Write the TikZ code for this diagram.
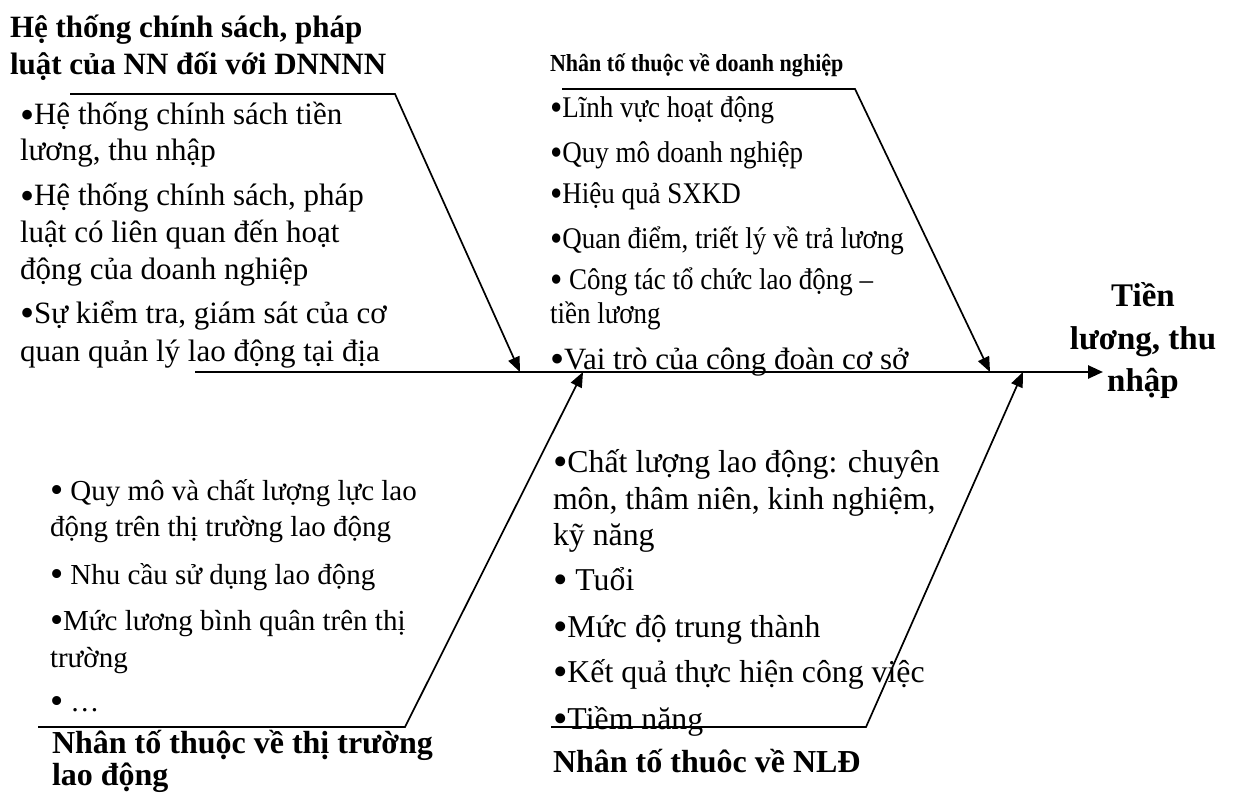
\documentclass[tikz,border=0pt]{standalone}
\usepackage{graphicx}
\usepackage{fontspec}
\setmainfont{Liberation Serif}
\newfontfamily\narrowserif[FakeStretch=0.9]{Liberation Serif}
\usetikzlibrary{arrows.meta}
\newcommand\tline[5]{\node[#1] (#2) at (#3,#4) {#5};}
\newcommand\bul{\raisebox{-0.1em}{\scalebox{1.3}{•}}}
\tikzset{
  txt/.style={anchor=base west, inner sep=0pt, outer sep=0pt},
  tlbody/.style={txt, font=\fontsize{31}{36}\selectfont},
  tlhead/.style={txt, font=\bfseries\fontsize{31}{36}\selectfont},
  trhead/.style={txt, font=\narrowserif\bfseries\fontsize{24.5}{28}\selectfont},
  trbody/.style={txt, font=\narrowserif\fontsize{30}{34}\selectfont},
  trbig/.style={txt, font=\fontsize{31}{36}\selectfont},
  blbody/.style={txt, font=\fontsize{29}{34}\selectfont},
  brbody/.style={txt, font=\fontsize{31.8}{36}\selectfont},
  bhead/.style={txt, font=\bfseries\fontsize{32}{38}\selectfont},
  effect/.style={anchor=base, inner sep=0pt, font=\bfseries\fontsize{33}{38}\selectfont},
  branch/.style={line width=1.7pt, line join=miter, -{Triangle[length=15pt,width=12pt]}},
  spine/.style={line width=2.6pt, -{Triangle[length=15pt,width=13pt]}}
}
\begin{document}
\begin{tikzpicture}[x=1pt,y=-1pt]
\useasboundingbox (0,0) rectangle (1238,794);
% ---------- coordinates ----------
\coordinate (spineS) at (195,372);
\coordinate (spineE) at (1103,372);
\coordinate (a1s) at (70,94);   \coordinate (a1c) at (395,94);   \coordinate (a1t) at (520,372);
\coordinate (a2s) at (562,89);  \coordinate (a2c) at (855,89);   \coordinate (a2t) at (990,372);
\coordinate (a3s) at (38,727);  \coordinate (a3c) at (405,727);  \coordinate (a3t) at (583,372);
\coordinate (a4s) at (551,727); \coordinate (a4c) at (866,727);  \coordinate (a4t) at (1023,372);
% ---------- top left ----------
\tline{tlhead}{h1a}{10}{38}{Hệ thống chính sách, pháp}
\tline{tlhead}{h1b}{10}{75}{luật của NN đối với DNNNN}
\tline{tlbody}{p1a}{20}{125}{\bul Hệ thống chính sách tiền}
\tline{tlbody}{p1b}{20}{161}{lương, thu nhập}
\tline{tlbody}{p1c}{20}{206}{\bul Hệ thống chính sách, pháp}
\tline{tlbody}{p1d}{20}{243}{luật có liên quan đến hoạt}
\tline{tlbody}{p1e}{20}{279}{động của doanh nghiệp}
\tline{tlbody}{p1f}{20}{323}{\bul Sự kiểm tra, giám sát của cơ}
\tline{tlbody}{p1g}{20}{361}{quan quản lý lao động tại địa}
% ---------- top right ----------
\tline{trhead}{h2}{550}{72}{Nhân tố thuộc về doanh nghiệp}
\tline{trbody}{p2a}{550}{118}{\bul Lĩnh vực hoạt động}
\tline{trbody}{p2b}{550}{163}{\bul Quy mô doanh nghiệp}
\tline{trbody}{p2c}{550}{204}{\bul Hiệu quả SXKD}
\tline{trbody}{p2d}{550}{248}{\bul Quan điểm, triết lý về trả lương}
\tline{trbody}{p2e}{550}{289}{\bul{} Công tác tổ chức lao động –}
\tline{trbody}{p2f}{550}{323}{tiền lương}
\tline{trbig}{p2g}{550}{369}{\bul Vai trò của công đoàn cơ sở}
% ---------- bottom left ----------
\tline{blbody}{p3a}{50}{500}{\bul{} Quy mô và chất lượng lực lao}
\tline{blbody}{p3b}{50}{536}{động trên thị trường lao động}
\tline{blbody}{p3c}{50}{584}{\bul{} Nhu cầu sử dụng lao động}
\tline{blbody}{p3d}{50}{630}{\bul Mức lương bình quân trên thị}
\tline{blbody}{p3e}{50}{667}{trường}
\tline{blbody}{p3f}{50}{711}{\bul{} …}
\tline{bhead}{h3a}{52}{753}{Nhân tố thuộc về thị trường}
\tline{bhead}{h3b}{52}{785}{lao động}
% ---------- bottom right ----------
\tline{brbody}{p4a}{553}{472}{\bul Chất lượng lao động: chuyên}
\tline{brbody}{p4b}{553}{509}{môn, thâm niên, kinh nghiệm,}
\tline{brbody}{p4c}{553}{545}{kỹ năng}
\tline{brbody}{p4d}{553}{590}{\bul{} Tuổi}
\tline{brbody}{p4e}{553}{637}{\bul Mức độ trung thành}
\tline{brbody}{p4f}{553}{682}{\bul Kết quả thực hiện công việc}
\tline{brbody}{p4g}{553}{729}{\bul Tiềm năng}
\tline{bhead}{h4}{553}{772}{Nhân tố thuôc về NLĐ}
% ---------- effect ----------
\node[effect] (e1) at (1143,306) {Tiền};
\node[effect] (e2) at (1143,349) {lương, thu};
\node[effect] (e3) at (1143,391) {nhập};
% ---------- connectors ----------
\draw[spine] (spineS) -- (spineE);
\draw[branch] (a1s) -- (a1c) -- (a1t);
\draw[branch] (a2s) -- (a2c) -- (a2t);
\draw[branch] (a3s) -- (a3c) -- (a3t);
\draw[branch] (a4s) -- (a4c) -- (a4t);
\end{tikzpicture}
\end{document}
